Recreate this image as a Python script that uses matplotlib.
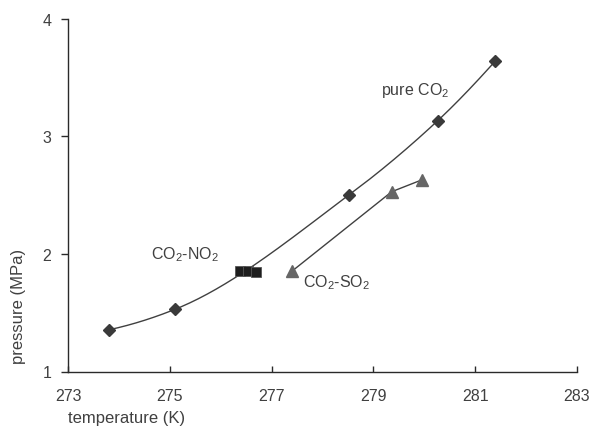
import numpy as np
import matplotlib
matplotlib.use("Agg")
import matplotlib.pyplot as plt

plt.rcParams['font.family'] = ['Liberation Sans', 'DejaVu Sans']
plt.rcParams['mathtext.fontset'] = 'custom'
plt.rcParams['mathtext.rm'] = 'Liberation Sans'
plt.rcParams['mathtext.it'] = 'Liberation Sans:italic'
plt.rcParams['mathtext.bf'] = 'Liberation Sans:bold'

# Data
pure_T = [273.81, 275.10, 278.52, 280.26, 281.39]
pure_P = [1.355, 1.528, 2.50, 3.13, 3.636]
no2_T = [276.38, 276.54, 276.69]
no2_P = [1.858, 1.852, 1.848]
so2_T = [277.41, 279.36, 279.96]
so2_P = [1.856, 2.528, 2.63]
x_ticks = [273, 275, 277, 279, 281, 283]
y_ticks = [1, 2, 3, 4]

TXT = '#404040'
LINE = '#404040'


def smooth(xs, ys, n=60):
    # smoothed connecting line (monotone cubic Hermite, Fritsch-Carlson)
    x = np.asarray(xs, float); y = np.asarray(ys, float)
    h = np.diff(x); d = np.diff(y) / h
    m = np.zeros_like(x)
    for k in range(1, len(x) - 1):
        if d[k - 1] * d[k] > 0:
            w1 = 2 * h[k] + h[k - 1]; w2 = h[k] + 2 * h[k - 1]
            m[k] = (w1 + w2) / (w1 / d[k - 1] + w2 / d[k])
    m[0] = ((2 * h[0] + h[1]) * d[0] - h[0] * d[1]) / (h[0] + h[1])
    m[-1] = ((2 * h[-1] + h[-2]) * d[-1] - h[-1] * d[-2]) / (h[-1] + h[-2])
    X, Y = [x[0]], [y[0]]
    for k in range(len(x) - 1):
        t = np.linspace(0, 1, n)[1:]
        h00 = 2 * t**3 - 3 * t**2 + 1; h10 = t**3 - 2 * t**2 + t
        h01 = -2 * t**3 + 3 * t**2; h11 = t**3 - t**2
        X.extend(x[k] + t * h[k])
        Y.extend(h00 * y[k] + h10 * h[k] * m[k] + h01 * y[k + 1] + h11 * h[k] * m[k + 1])
    return np.array(X), np.array(Y)


fig = plt.figure(figsize=(5.94, 4.27), dpi=100)
ax = fig.add_axes([68 / 594, 1 - 372.5 / 427, (577 - 68) / 594, (372.5 - 19.5) / 427])

sx, sy = smooth(pure_T, pure_P)
ax.plot(sx, sy, color=LINE, lw=1.0, zorder=2)
ax.plot(pure_T, pure_P, ls='none', marker='D', ms=6, color='#3a3a3a', zorder=3)

ax.plot(so2_T, so2_P, color=LINE, lw=1.0, zorder=2)
ax.plot(so2_T, so2_P, ls='none', marker='^', ms=8, color='#666666', zorder=3)

ax.plot(no2_T, no2_P, ls='none', marker='s', ms=7, color='#1e1e1e', mec='#555555', mew=0.6, zorder=4)

ax.set_xlim(273, 283)
ax.set_ylim(1, 4)
ax.set_xticks(x_ticks)
ax.set_yticks(y_ticks)
ax.set_xticklabels([str(v) for v in x_ticks])
ax.set_yticklabels([str(v) for v in y_ticks])

for s in ['top', 'right']:
    ax.spines[s].set_visible(False)
for s in ['left', 'bottom']:
    ax.spines[s].set_color('#2a2a2a')
    ax.spines[s].set_linewidth(1.0)

ax.tick_params(axis='x', direction='in', length=4, width=1, color='#2a2a2a',
               labelsize=11.5, labelcolor=TXT, pad=12)
ax.tick_params(axis='y', direction='out', length=5, width=1, color='#2a2a2a',
               labelsize=11.5, labelcolor=TXT, pad=7)

fig.text(381 / 594, 1 - 90 / 427, 'pure CO$_2$', fontsize=11.5, color=TXT, va='center', ha='left')
fig.text(151 / 594, 1 - 255 / 427, 'CO$_2$-NO$_2$', fontsize=11.5, color=TXT, va='center', ha='left')
fig.text(303 / 594, 1 - 283 / 427, 'CO$_2$-SO$_2$', fontsize=11.5, color=TXT, va='center', ha='left')

fig.text(68 / 594, 1 - 419 / 427, 'temperature (K)', fontsize=12, color=TXT, va='center', ha='left')
fig.text(19 / 594, 1 - 306 / 427, 'pressure (MPa)', fontsize=12, color=TXT, va='center', ha='center',
         rotation=90)

fig.savefig('out.png', dpi=100)
